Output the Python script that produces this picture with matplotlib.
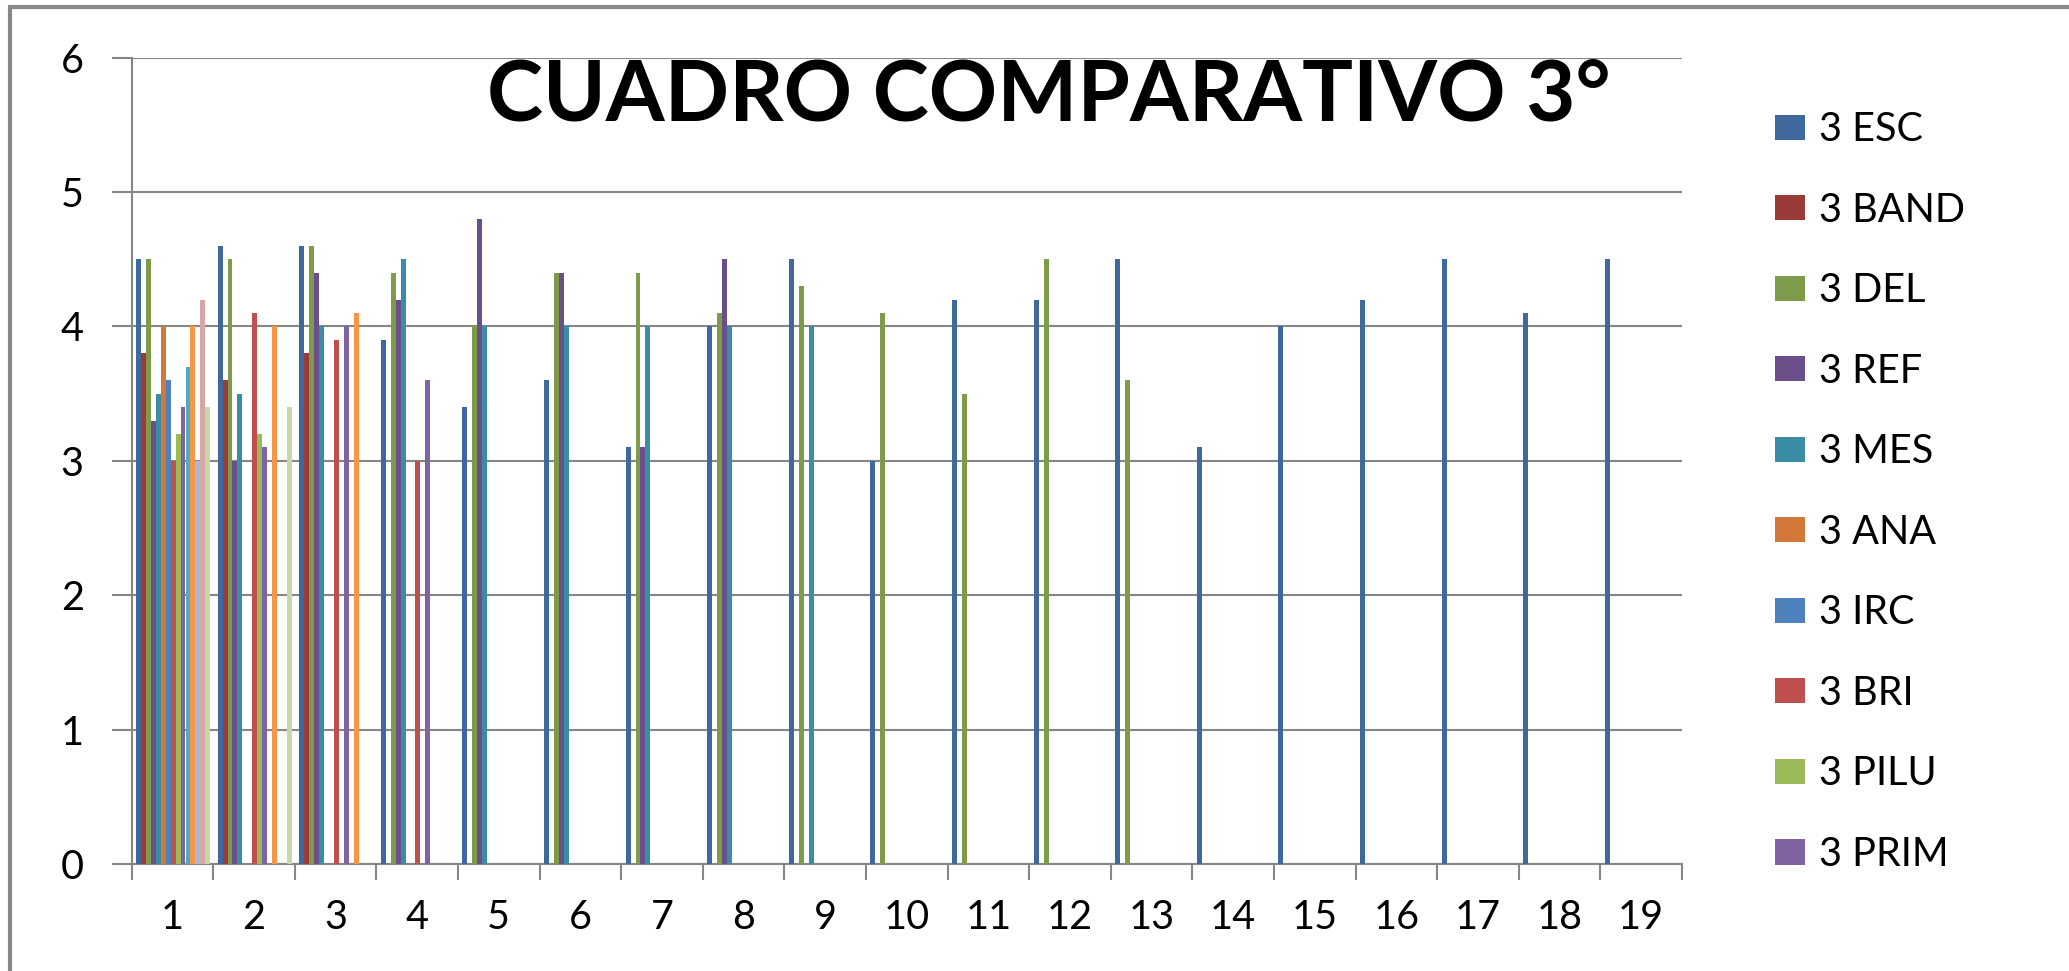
import numpy as np
import matplotlib
matplotlib.use("Agg")
import matplotlib.pyplot as plt
from matplotlib.patches import Rectangle

plt.rcParams['font.family'] = ['Lato', 'DejaVu Sans']

nan = np.nan

categories = [str(i) for i in range(1, 20)]

series_names = ['3 ESC', '3 BAND', '3 DEL', '3 REF', '3 MES',
                '3 ANA', '3 IRC', '3 BRI', '3 PILU', '3 PRIM']

esc = [4.5, 4.6, 4.6, 3.9, 3.4, 3.6, 3.1, 4.0, 4.5, 3.0, 4.2, 4.2, 4.5, 3.1, 4.0, 4.2, 4.5, 4.1, 4.5]
band = [3.8, 3.6, 3.8] + [nan] * 16
dele = [4.5, 4.5, 4.6, 4.4, 4.0, 4.4, 4.4, 4.1, 4.3, 4.1, 3.5, 4.5, 3.6] + [nan] * 6
ref = [3.3, 3.0, 4.4, 4.2, 4.8, 4.4, 3.1, 4.5] + [nan] * 11
mes = [3.5, 3.5, 4.0, 4.5, 4.0, 4.0, 4.0, 4.0, 4.0] + [nan] * 10
ana = [4.0] + [nan] * 18
irc = [3.6] + [nan] * 18
bri = [3.0, 4.1, 3.9, 3.0] + [nan] * 15
pilu = [3.2, 3.2] + [nan] * 17
prim = [3.4, 3.1, 4.0, 3.6] + [nan] * 15
# series without a legend entry (legend is cut off in the original)
s11 = [3.7] + [nan] * 18
s12 = [4.0, 4.0, 4.1] + [nan] * 16
s13 = [3.0] + [nan] * 18
s14 = [4.2] + [nan] * 18
s15 = [3.4, 3.4] + [nan] * 17

all_series = [esc, band, dele, ref, mes, ana, irc, bri, pilu, prim,
              s11, s12, s13, s14, s15]

colors = ['#3F689C', '#9B3B38', '#7E9B4A', '#6A4F8A', '#3A8DA4',
          '#D2793A', '#4F81BD', '#C0504D', '#9BBB59', '#8064A2',
          '#4BACC6', '#F79646', '#A8B9DA', '#DAA6A5', '#C6D8A8']

W, H = 2069, 971
fig = plt.figure(figsize=(W / 100, H / 100), dpi=100)
ax = fig.add_axes([131.5 / W, 1 - 864 / H, (1682 - 131.5) / W, (864 - 57.7) / H])

grey = '#868686'
cat_px = (1682 - 131.5) / 19
bar_w = 4.95 / cat_px
start = 4.5 / cat_px

x = np.arange(1, 20)
handles = []
for k, vals in enumerate(all_series):
    b = ax.bar(x - 0.5 + start + k * bar_w, vals, width=bar_w, align='edge',
               color=colors[k], linewidth=0, zorder=3)
    handles.append(b)

ax.set_xlim(0.5, 19.5)
ax.set_ylim(0, 6)
ax.set_yticks(range(7))
ax.yaxis.grid(True, color=grey, linewidth=1.5, zorder=0)
ax.set_axisbelow(True)

fs = 28.5
ax.set_xticks(np.arange(0.5, 20, 1))
ax.set_xticklabels([])
ax.set_xticks(x, minor=True)
ax.set_xticklabels(categories, minor=True)
ax.tick_params(axis='x', which='major', length=11.5, width=1.5, color=grey)
ax.tick_params(axis='x', which='minor', length=0, pad=25, labelsize=fs)
ax.tick_params(axis='y', length=14.4, width=1.5, color=grey, pad=20, labelsize=fs)

for s in ['top', 'right']:
    ax.spines[s].set_visible(False)
for s in ['left', 'bottom']:
    ax.spines[s].set_color(grey)
    ax.spines[s].set_linewidth(1.5)

fig.text(1049 / W, 1 - 96 / H, 'CUADRO COMPARATIVO 3°', fontsize=61,
         fontweight='bold', ha='center', va='center')

fig.legend(handles[:10], series_names, loc='center left',
           bbox_to_anchor=(1775 / W, 1 - 492 / H), frameon=False,
           fontsize=fs, handlelength=0.76, handleheight=0.6,
           handletextpad=0.35, labelspacing=1.1, borderpad=0,
           borderaxespad=0)

fig.patches.append(Rectangle((10 / W, -0.2), 1.5, 1.2 - 7 / H,
                             transform=fig.transFigure, fill=False,
                             edgecolor='#888888', linewidth=3))

fig.savefig('out.png', dpi=100)
